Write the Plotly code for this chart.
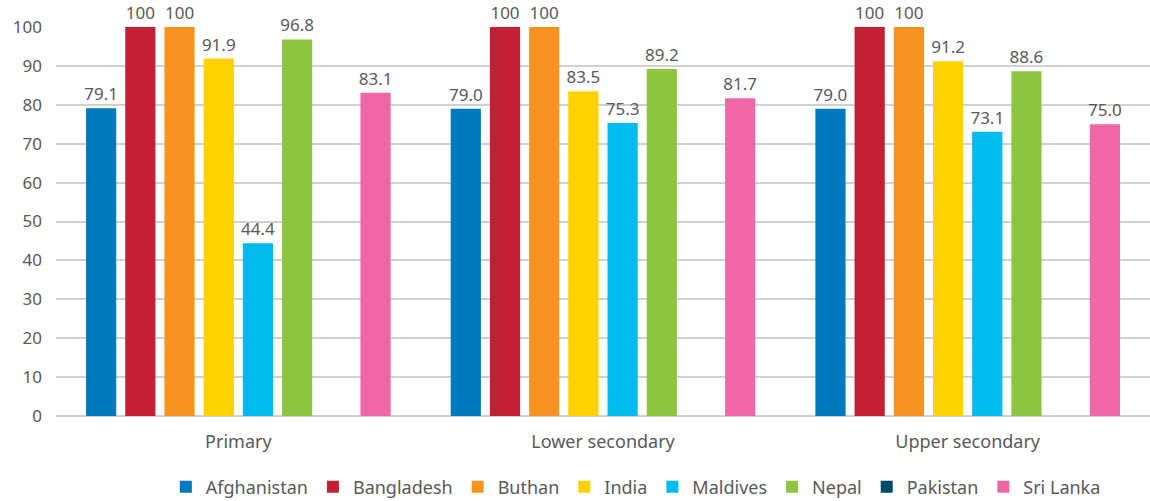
import plotly.graph_objects as go

categories = ["Primary", "Lower secondary", "Upper secondary"]
countries = ["Afghanistan", "Bangladesh", "Buthan", "India", "Maldives", "Nepal", "Pakistan", "Sri Lanka"]
afghanistan = [79.1, 79.0, 79.0]
bangladesh = [100, 100, 100]
buthan = [100, 100, 100]
india = [91.9, 83.5, 91.2]
maldives = [44.4, 75.3, 73.1]
nepal = [96.8, 89.2, 88.6]
pakistan = [None, None, None]
sri_lanka = [83.1, 81.7, 75.0]
series = [afghanistan, bangladesh, buthan, india, maldives, nepal, pakistan, sri_lanka]
colors = ["#0079C1", "#C41F35", "#F7931E", "#FDD200", "#00BAF0", "#8CC540", "#004A6B", "#F067A6"]
y_ticks = [0, 10, 20, 30, 40, 50, 60, 70, 80, 90, 100]

def fmt(v):
    if v is None:
        return ""
    return "100" if v == 100 else f"{v:.1f}"

FONT = "Noto Sans"
fig = go.Figure()
for name, vals, col in zip(countries, series, colors):
    fig.add_trace(go.Bar(
        name=name, x=categories, y=vals,
        marker=dict(color=col, line=dict(width=0)),
        text=[fmt(v) for v in vals], textposition="outside",
        textfont=dict(family=FONT, size=17, color="#595959"),
        constraintext="none",
        cliponaxis=False,
    ))

fig.update_layout(
    width=1150, height=501,
    margin=dict(l=56, r=0, t=27, b=85, autoexpand=False),
    plot_bgcolor="white", paper_bgcolor="white",
    barmode="group", bargap=0.14, bargroupgap=0.23,
    font=dict(family=FONT, size=17, color="#595959"),
    showlegend=True,
    legend=dict(orientation="h", x=0.53, xanchor="center", y=-0.135, yanchor="top",
                font=dict(family=FONT, size=18, color="#595959"),
                itemwidth=30, traceorder="normal", tracegroupgap=0),
    xaxis=dict(showgrid=False, showline=True, linecolor="#D0D0D0", linewidth=1,
               ticks="", ticklabelstandoff=9, tickfont=dict(size=18)),
    yaxis=dict(range=[0, 100], tickvals=y_ticks, showgrid=True, gridcolor="#D0D0D0",
               gridwidth=1.5, zeroline=True, zerolinecolor="#D0D0D0", zerolinewidth=1.5,
               ticks="", ticklabelstandoff=13, tickfont=dict(size=17)),
)

fig.write_html("out.html", config={"displayModeBar": False},
               post_script="document.body.style.margin='0';")
